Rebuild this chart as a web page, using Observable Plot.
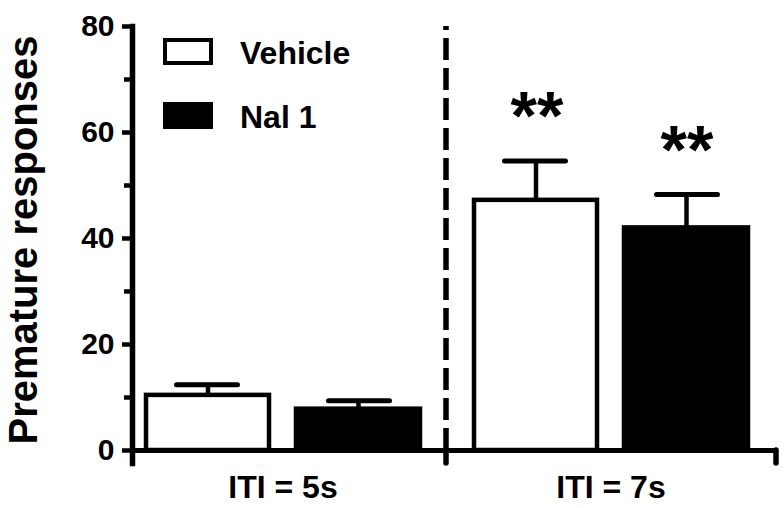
<!DOCTYPE html>
<html>
<head>
<meta charset="utf-8">
<script src="https://cdn.jsdelivr.net/npm/d3@7"></script>
<script src="https://cdn.jsdelivr.net/npm/@observablehq/plot@0.6"></script>
<style>
  html, body { margin: 0; padding: 0; background: #fff; }
  #wrap { position: relative; width: 784px; height: 508px; font-family: "Liberation Sans", Arial, sans-serif; font-weight: bold; color: #000; }
  .box { position: absolute; left: 163px; width: 50px; height: 27px; box-sizing: border-box; border: 4.5px solid #000; }
  .lab { position: absolute; left: 240px; font-size: 32px; line-height: 32px; white-space: nowrap; }
</style>
</head>
<body>
<div id="wrap"></div>
<script>
// ---- data ----
const groups = ["ITI = 5s", "ITI = 7s"];
const treatments = ["Vehicle", "Nal 1"];
const vehicleMean = [10.4, 47.2];
const vehicleSem  = [2.0, 7.4];
const nalMean     = [7.8, 42.0];
const nalSem      = [1.6, 6.3];
const vehicleSig  = ["", "**"];
const nalSig      = ["", "**"];
const yTicks      = [0, 20, 40, 60, 80];
const yMinorTicks = [10, 30, 50, 70];
const yLabel = "Premature responses";

const vehicleRows = groups.map((g, i) => ({group: g, treatment: treatments[0], mean: vehicleMean[i], sem: vehicleSem[i], sig: vehicleSig[i]}));
const nalRows     = groups.map((g, i) => ({group: g, treatment: treatments[1], mean: nalMean[i], sem: nalSem[i], sig: nalSig[i]}));
const capTop = d => d.mean + d.sem;

const font = "Liberation Sans, Arial, sans-serif";

const chart = Plot.plot({
  width: 784,
  height: 508,
  marginLeft: 132,
  marginRight: 8,
  marginTop: 26,
  marginBottom: 58,
  style: {fontFamily: font, fontWeight: "bold", background: "#fff", color: "#000", overflow: "visible"},
  x: {type: "band", domain: groups, range: [132, 761], paddingInner: 0.087, paddingOuter: 0, label: null},
  y: {domain: [0, 80], label: null},
  marks: [
    // y axis
    Plot.axisY({ticks: yTicks, tickSize: 10, tickPadding: 8, strokeWidth: 4.5, fontSize: 30, fontWeight: "bold", label: null}),
    Plot.axisY({ticks: yMinorTicks, tickSize: 8, strokeWidth: 4.5, text: null, label: null}),
    Plot.frame({anchor: "left", strokeWidth: 5.5, insetBottom: -13}),
    // x axis
    Plot.axisX({tickSize: 0, tickPadding: 25, fontSize: 32, fontWeight: "bold", label: null}),
    Plot.ruleY([0], {strokeWidth: 5}),
    // divider and axis end ticks
    Plot.ruleX([groups[1]], {x: d => d, y1: 0, y2: 80, dx: -165, strokeWidth: 5.5, strokeDasharray: "22,8"}),
    Plot.ruleX([groups[1]], {x: d => d, y1: 0, y2: 0, dx: -165, insetBottom: -13, strokeWidth: 5.5, strokeLinecap: "round"}),
    Plot.ruleX([groups[1]], {x: d => d, y1: 0, y2: 0, dx: 165, insetBottom: -13, strokeWidth: 5.5, strokeLinecap: "round"}),
    // bars
    Plot.barY(vehicleRows, {x: "group", y: "mean", fill: "#fff", stroke: "#000", strokeWidth: 4.5, insetLeft: 13, insetRight: 163}),
    Plot.barY(nalRows, {x: "group", y: "mean", fill: "#000", stroke: "#000", strokeWidth: 4.5, insetLeft: 163, insetRight: 12}),
    // error bars
    Plot.ruleX(vehicleRows, {x: "group", y1: "mean", y2: capTop, dx: -75, strokeWidth: 4.5}),
    Plot.ruleX(nalRows, {x: "group", y1: "mean", y2: capTop, dx: 75.5, strokeWidth: 4.5}),
    Plot.tickY(vehicleRows, {x: "group", y: capTop, insetLeft: 43.5, insetRight: 194.5, strokeWidth: 5, strokeLinecap: "round"}),
    Plot.tickY(nalRows, {x: "group", y: capTop, insetLeft: 195.5, insetRight: 42.5, strokeWidth: 5, strokeLinecap: "round"}),
    // significance
    Plot.text(vehicleRows, {x: "group", y: capTop, text: "sig", dx: -74, dy: -22, lineAnchor: "bottom", fontSize: 68, fontWeight: "bold"}),
    Plot.text(nalRows, {x: "group", y: capTop, text: "sig", dx: 76, dy: -22, lineAnchor: "bottom", fontSize: 68, fontWeight: "bold"}),
    // y label
    Plot.text([yLabel], {frameAnchor: "left", textAnchor: "middle", lineAnchor: "middle", rotate: -90, dx: -108, dy: 1.5, fontSize: 40, fontWeight: "bold"})
  ]
});

const wrap = document.getElementById("wrap");
wrap.appendChild(chart);

// legend (inside plot area, top-left)
const legendTops = [38, 102];
const legendFill = ["#fff", "#000"];
treatments.forEach((t, i) => {
  const b = document.createElement("div");
  b.className = "box";
  b.style.top = legendTops[i] + "px";
  b.style.background = legendFill[i];
  wrap.appendChild(b);
  const l = document.createElement("div");
  l.className = "lab";
  l.style.top = (legendTops[i] - 1) + "px";
  l.textContent = t;
  wrap.appendChild(l);
});
</script>
</body>
</html>
